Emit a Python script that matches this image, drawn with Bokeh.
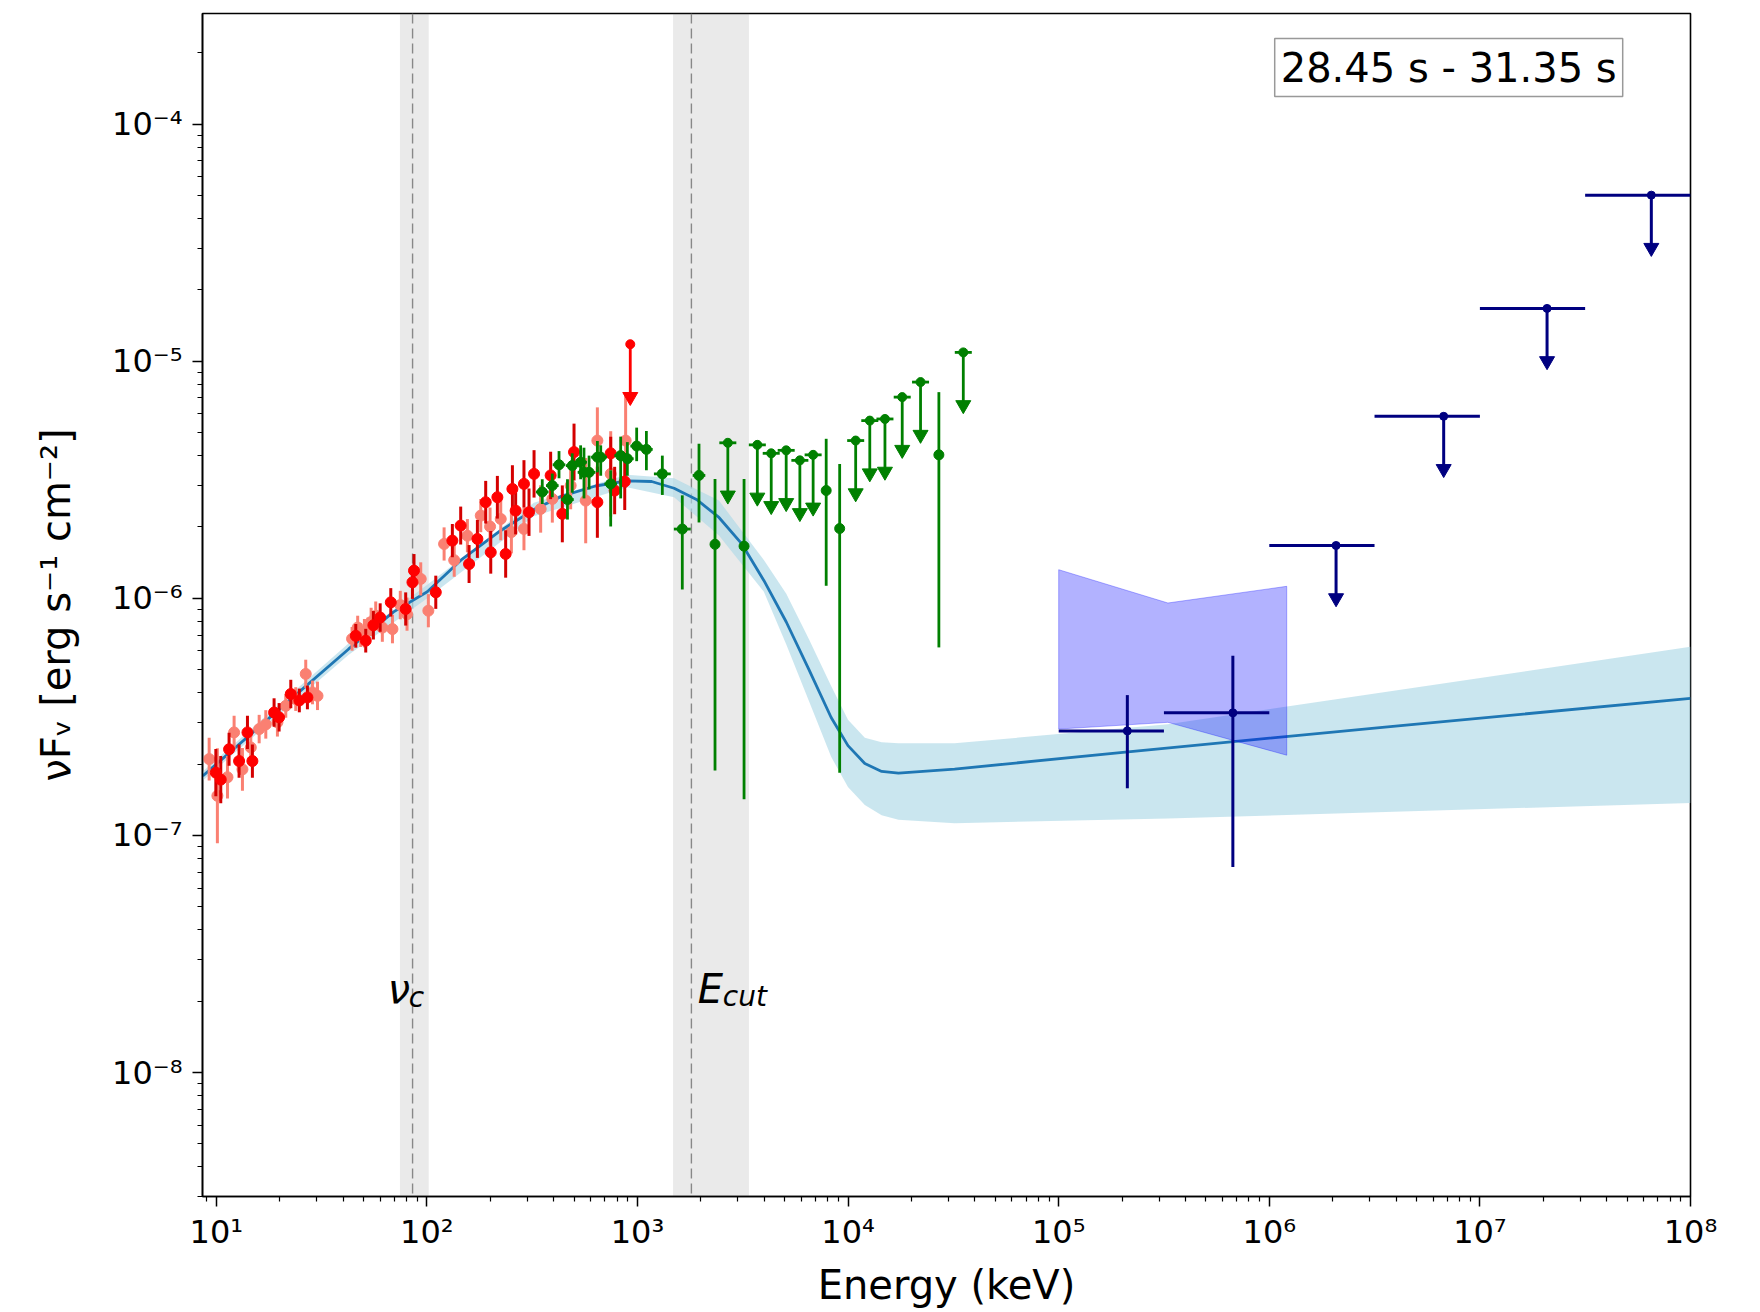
import numpy as np
from bokeh.plotting import figure
from bokeh.models import (ColumnDataSource, Range1d, FixedTicker, CustomJSTickFormatter,
                          Label, BoxAnnotation, Span)
from bokeh.embed import file_html
from bokeh.resources import INLINE

# ---------------- data ----------------
x_tick_exponents = [1, 2, 3, 4, 5, 6, 7, 8]
y_tick_exponents = [-8, -7, -6, -5, -4]
x_limits = [8.6, 1.0e8]
y_limits = [3.0e-9, 2.93e-4]

# best-fit model (keV, erg s^-1 cm^-2)
model_E = [8.63, 20.37, 42.54, 69.49, 100.4, 145.0, 222.8, 321.9, 437.5, 632.0, 891.3, 1167,
           1492, 1906, 2437, 3114, 3981, 5087, 6502, 8309, 9986, 12007, 14434, 17346, 32035,
           2.017e5, 4.332e6, 1.0e8]
model_F = [1.782e-7, 3.469e-7, 6.118e-7, 8.77e-7, 1.067e-6, 1.449e-6, 1.924e-6, 2.368e-6,
           2.699e-6, 2.978e-6, 3.128e-6, 3.111e-6, 2.913e-6, 2.613e-6, 2.194e-6, 1.707e-6,
           1.190e-6, 7.95e-7, 5.03e-7, 3.145e-7, 2.393e-7, 2.010e-7, 1.862e-7, 1.833e-7,
           1.904e-7, 2.243e-7, 2.913e-7, 3.786e-7]

# model uncertainty band
band_E = [8.63, 42.54, 100.4, 321.9, 891.3, 1492, 2437, 3981, 5087, 6502, 8309, 9986, 12007,
          14434, 17346, 32035, 3.295e5, 1.0e8]
band_hi = [1.862e-7, 6.46e-7, 1.140e-6, 2.528e-6, 3.321e-6, 3.214e-6, 2.584e-6, 1.45e-6,
           1.045e-6, 6.75e-7, 4.27e-7, 3.076e-7, 2.584e-7, 2.474e-7, 2.446e-7, 2.446e-7,
           2.945e-7, 6.25e-7]
band_lo = [1.707e-7, 5.79e-7, 1.0e-6, 2.218e-6, 2.945e-6, 2.670e-6, 1.842e-6, 1.067e-6,
           6.39e-7, 3.704e-7, 2.146e-7, 1.599e-7, 1.343e-7, 1.217e-7, 1.165e-7, 1.127e-7,
           1.178e-7, 1.372e-7]

# NaI detector 1 (red) : energy, flux, symmetric error in dex
red_E = [9.95, 10.5, 11.5, 12.83, 14.06, 14.84, 18.81, 19.87, 22.58, 24.79, 27.08,
         45.95, 51.24, 55.71, 60.0, 67.38, 79.31, 85.39, 86.86, 110.2, 132.1, 144.7, 158.6,
         173.7, 190.2, 201.0, 216.1, 236.6, 254.7, 263.9, 289.0, 305.4, 322.7, 386.9, 439.6,
         499.6, 644.8, 746.2, 778.9, 869.8]
red_F = [1.84e-7, 1.72e-7, 2.31e-7, 2.06e-7, 2.72e-7, 2.06e-7, 3.30e-7, 3.15e-7, 3.95e-7,
         3.71e-7, 3.82e-7,
         6.95e-7, 6.63e-7, 7.70e-7, 8.3e-7, 9.62e-7, 9.02e-7, 1.169e-6, 1.309e-6, 1.061e-6,
         1.752e-6, 2.028e-6, 1.396e-6, 1.781e-6, 2.544e-6, 1.564e-6, 2.670e-6, 1.539e-6,
         2.894e-6, 2.344e-6, 3.04e-6, 2.309e-6, 3.35e-6, 3.30e-6, 2.272e-6, 4.14e-6,
         2.544e-6, 4.09e-6, 2.85e-6, 3.11e-6]
red_dex = [0.10, 0.10, 0.07, 0.07, 0.07, 0.07, 0.06, 0.06, 0.06, 0.05, 0.05,
           0.05, 0.05, 0.06, 0.06, 0.06, 0.07, 0.07, 0.07, 0.07, 0.07, 0.08, 0.08, 0.08, 0.09,
           0.09, 0.09, 0.10, 0.10, 0.10, 0.10, 0.10, 0.10, 0.10, 0.12, 0.12, 0.15, 0.07, 0.10,
           0.12]
red_ul_E = [924.0]
red_ul_F = [1.18e-5]

# NaI detector 2 (salmon)
salmon_E = [9.25, 10.12, 11.30, 12.15, 13.31, 14.58, 15.98, 17.18, 19.51, 21.37, 23.84, 26.59,
            28.62, 30.24,
            44.13, 46.92, 48.5, 50.50, 52.5, 54.35, 57.16, 61.44, 68.63, 74.76, 80.48, 93.48,
            101.6, 120.7, 134.8, 155.7, 180.2, 199.5, 224.2, 251.9, 289.0, 346.9, 394.1,
            481.5, 567.6, 644.8, 746.2, 878.3]
salmon_F = [2.10e-7, 1.47e-7, 1.76e-7, 2.72e-7, 1.90e-7, 2.35e-7, 2.81e-7, 2.94e-7, 3.00e-7,
            3.52e-7, 3.76e-7, 4.80e-7, 4.01e-7, 3.88e-7,
            6.75e-7, 7.53e-7, 7.0e-7, 7.13e-7, 7.4e-7, 7.95e-7, 8.45e-7, 7.53e-7, 7.42e-7,
            9.37e-7, 8.58e-7, 1.208e-6, 8.87e-7, 1.696e-6, 1.449e-6, 1.838e-6, 2.234e-6,
            2.009e-6, 2.162e-6, 1.904e-6, 1.963e-6, 2.383e-6, 2.627e-6, 2.99e-6, 2.584e-6,
            4.63e-6, 3.35e-6, 4.63e-6]
salmon_dex = [0.09, 0.20, 0.09, 0.07, 0.09, 0.07, 0.06, 0.06, 0.06, 0.05, 0.05, 0.06, 0.05,
              0.06,
              0.05, 0.05, 0.05, 0.06, 0.05, 0.06, 0.06, 0.06, 0.06, 0.06, 0.07, 0.07, 0.07,
              0.07, 0.07, 0.07, 0.07, 0.08, 0.09, 0.09, 0.09, 0.10, 0.10, 0.10, 0.18, 0.14,
              0.18, 0.20]

# BGO (green)
green_E = [353, 394, 424, 465, 490, 537, 557, 589, 645, 669, 746, 832, 895, 991, 1102, 1312,
           1632, 1959, 2334, 3206, 7870, 9120, 26980]
green_F = [2.81e-6, 2.99e-6, 3.66e-6, 2.61e-6, 3.63e-6, 3.75e-6, 3.40e-6, 3.40e-6, 3.94e-6,
           3.94e-6, 3.04e-6, 4.00e-6, 3.88e-6, 4.39e-6, 4.25e-6, 3.35e-6, 1.96e-6, 3.30e-6,
           1.69e-6, 1.66e-6, 2.85e-6, 1.97e-6, 4.03e-6]
green_hi = [3.18e-6, 3.36e-6, 4.18e-6, 3.18e-6, 4.09e-6, 4.42e-6, 4.32e-6, 4.00e-6, 4.61e-6,
            4.42e-6, 3.47e-6, 4.81e-6, 4.56e-6, 5.25e-6, 5.08e-6, 4.00e-6, 2.72e-6, 4.49e-6,
            3.19e-6, 3.19e-6, 4.71e-6, 3.69e-6, 7.41e-6]
green_lo = [2.50e-6, 2.67e-6, 3.21e-6, 2.15e-6, 2.79e-6, 3.18e-6, 2.64e-6, 2.88e-6, 3.40e-6,
            3.29e-6, 2.01e-6, 2.64e-6, 3.29e-6, 3.79e-6, 3.47e-6, 2.73e-6, 1.09e-6, 2.09e-6,
            1.88e-7, 1.42e-7, 1.13e-6, 1.84e-7, 6.21e-7]
green_xdex = [0.03, 0.03, 0.03, 0.03, 0.03, 0.03, 0.03, 0.03, 0.03, 0.03, 0.03, 0.03, 0.03,
              0.03, 0.03, 0.04, 0.04, 0.03, 0.02, 0.02, 0.02, 0.02, 0.02]
green_ul_E = [2685, 3707, 4315, 5082, 5902, 6823, 10864, 12677, 14962, 18072, 22080, 35237]
green_ul_F = [4.53e-6, 4.44e-6, 4.09e-6, 4.21e-6, 3.82e-6, 4.03e-6, 4.63e-6, 5.62e-6, 5.71e-6,
              7.06e-6, 8.17e-6, 1.09e-5]

# LAT (navy)
lat_E = [2.118e5, 6.714e5]
lat_F = [2.761e-7, 3.289e-7]
lat_hi = [3.908e-7, 5.728e-7]
lat_lo = [1.581e-7, 7.36e-8]
lat_emin = [1.0e5, 3.16e5]
lat_emax = [3.16e5, 1.0e6]
lat_ul_E = [2.075e6, 6.73e6, 2.084e7, 6.516e7]
lat_ul_F = [1.671e-6, 5.86e-6, 1.671e-5, 5.02e-5]
lat_ul_emin = [1.0e6, 3.16e6, 1.0e7, 3.16e7]
lat_ul_emax = [3.16e6, 1.0e7, 3.16e7, 1.0e8]

# LAT butterfly
bowtie_E = [1.0e5, 3.3e5, 1.21e6, 1.21e6, 3.3e5, 1.0e5]
bowtie_F = [1.321e-6, 9.56e-7, 1.124e-6, 2.18e-7, 3.0e-7, 2.81e-7]

# characteristic energies
nu_c = 85.5
nu_c_range = [74.5, 102.0]
e_cut = 1803.0
e_cut_range = [1475.0, 3383.0]

time_label = "28.45 s - 31.35 s"
x_label = "Energy (keV)"
y_label = "\u03bdF\u1d65 [erg s\u207b\u00b9 cm\u207b\u00b2]"
ul_fraction = 0.6   # upper-limit arrows drawn down to 0.6 x value

FONT = "DejaVu Sans"

# ---------------- figure ----------------
p = figure(width=1760, height=1312, x_axis_type="log", y_axis_type="log",
           x_range=Range1d(*x_limits), y_range=Range1d(*y_limits),
           output_backend="svg", toolbar_location=None,
           min_border_left=202, min_border_right=70, min_border_top=13,
           min_border_bottom=116)
p.grid.visible = False
p.background_fill_color = "white"
p.border_fill_color = "white"
p.outline_line_color = "black"
p.outline_line_width = 1.6
p.outline_line_alpha = 1.0

fmt = CustomJSTickFormatter(code="""
const e = Math.round(Math.log10(tick));
const m = {"-":"\u207b","0":"\u2070","1":"\u00b9","2":"\u00b2","3":"\u00b3","4":"\u2074",
           "5":"\u2075","6":"\u2076","7":"\u2077","8":"\u2078","9":"\u2079"};
return "10" + String(e).split("").map(c => m[c]).join("");
""")

x_major = [10.0 ** k for k in x_tick_exponents]
x_minor = [m * 10.0 ** k for k in range(0, 8) for m in range(2, 10)
           if x_limits[0] <= m * 10.0 ** k <= x_limits[1]]
y_major = [10.0 ** k for k in y_tick_exponents]
y_minor = [m * 10.0 ** k for k in range(-9, -3) for m in range(2, 10)
           if y_limits[0] <= m * 10.0 ** k <= y_limits[1]]
p.xaxis.ticker = FixedTicker(ticks=x_major, minor_ticks=x_minor)
p.yaxis.ticker = FixedTicker(ticks=y_major, minor_ticks=y_minor)

for ax in (p.xaxis[0], p.yaxis[0]):
    ax.formatter = fmt
    ax.major_label_text_font = FONT
    ax.major_label_text_font_size = "32px"
    ax.major_label_text_color = "black"
    ax.major_tick_out = 10
    ax.major_tick_in = 0
    ax.minor_tick_out = 5
    ax.minor_tick_in = 0
    ax.major_tick_line_width = 1.5
    ax.minor_tick_line_width = 1.2
    ax.major_tick_line_color = "black"
    ax.minor_tick_line_color = "black"
    ax.axis_line_width = 1.6
    ax.axis_line_color = "black"
    ax.axis_label_text_font = FONT
    ax.axis_label_text_font_size = "40px"
    ax.axis_label_text_font_style = "normal"
    ax.axis_label_text_color = "black"
p.xaxis.major_label_standoff = 6
p.yaxis.major_label_standoff = 10
p.xaxis.axis_label = x_label
p.xaxis.axis_label_standoff = 8
p.yaxis.axis_label = y_label
p.yaxis.axis_label_standoff = 30

# shaded characteristic-energy ranges and dashed lines
for rng, loc in ((nu_c_range, nu_c), (e_cut_range, e_cut)):
    p.add_layout(BoxAnnotation(left=rng[0], right=rng[1], fill_color="gray", fill_alpha=0.17,
                               line_alpha=0, level="underlay"))
    p.add_layout(Span(location=loc, dimension="height", line_color="#888888",
                      line_width=1.4, line_dash="10 5", level="underlay"))

# model band and line
p.varea(x=band_E, y1=band_lo, y2=band_hi, fill_color="#add8e6", fill_alpha=0.65)
p.line(model_E, model_F, line_color="#1f77b4", line_width=2.8)

# LAT butterfly
p.patch(bowtie_E, bowtie_F, fill_color="blue", fill_alpha=0.3, line_color="blue", line_alpha=0.3)


def errpoints(E, F, dex, bar_color, dot_color):
    E = np.array(E, float)
    F = np.array(F, float)
    d = np.array(dex, float)
    src = ColumnDataSource(dict(x=E, y=F, lo=F / 10 ** d, hi=F * 10 ** d))
    p.segment(x0="x", y0="lo", x1="x", y1="hi", source=src, line_color=bar_color, line_width=3)
    p.scatter(x="x", y="y", source=src, size=11, fill_color=dot_color, line_color=dot_color)


errpoints(salmon_E, salmon_F, salmon_dex, "salmon", "salmon")
errpoints(red_E, red_F, red_dex, "#d40000", "red")

# red upper limit
rul = ColumnDataSource(dict(x=red_ul_E, y=red_ul_F, tip=[f * ul_fraction for f in red_ul_F]))
p.segment(x0="x", y0="y", x1="x", y1="tip", source=rul, line_color="red", line_width=2.8)
p.scatter(x="x", y="y", source=rul, size=9, color="red")
p.scatter(x="x", y="tip", source=rul, marker="inverted_triangle", size=15, color="red")

# green points
gE = np.array(green_E, float)
gx = np.array(green_xdex, float)
gsrc = ColumnDataSource(dict(x=gE, y=green_F, lo=green_lo, hi=green_hi,
                             xl=gE / 10 ** gx, xr=gE * 10 ** gx))
p.segment(x0="x", y0="lo", x1="x", y1="hi", source=gsrc, line_color="green", line_width=2.8)
p.segment(x0="xl", y0="y", x1="xr", y1="y", source=gsrc, line_color="green", line_width=2.8)
p.scatter(x="x", y="y", source=gsrc, size=10, color="green")

gul = ColumnDataSource(dict(x=green_ul_E, y=green_ul_F,
                            tip=[f * ul_fraction for f in green_ul_F]))
p.segment(x0="x", y0="y", x1="x", y1="tip", source=gul, line_color="green", line_width=2.8)
p.scatter(x="x", y="y", source=gul, marker="dash", size=17, line_color="green", line_width=2.8)
p.scatter(x="x", y="y", source=gul, size=9, color="green")
p.scatter(x="x", y="tip", source=gul, marker="inverted_triangle", size=15, color="green")

# LAT points
lsrc = ColumnDataSource(dict(x=lat_E, y=lat_F, lo=lat_lo, hi=lat_hi, xl=lat_emin, xr=lat_emax))
p.segment(x0="x", y0="lo", x1="x", y1="hi", source=lsrc, line_color="navy", line_width=3)
p.segment(x0="xl", y0="y", x1="xr", y1="y", source=lsrc, line_color="navy", line_width=3)
p.scatter(x="x", y="y", source=lsrc, size=8, color="navy")

lul = ColumnDataSource(dict(x=lat_ul_E, y=lat_ul_F, xl=lat_ul_emin, xr=lat_ul_emax,
                            tip=[f * ul_fraction for f in lat_ul_F]))
p.segment(x0="xl", y0="y", x1="xr", y1="y", source=lul, line_color="navy", line_width=3)
p.segment(x0="x", y0="y", x1="x", y1="tip", source=lul, line_color="navy", line_width=3)
p.scatter(x="x", y="y", source=lul, size=8, color="navy")
p.scatter(x="x", y="tip", source=lul, marker="inverted_triangle", size=15, color="navy")

# characteristic-energy labels
lab_y = 2.25e-8
p.add_layout(Label(x=65.2, y=lab_y, text="\u03bd", text_font=FONT, text_font_size="40px",
                   text_font_style="italic", text_baseline="alphabetic", text_color="black"))
p.add_layout(Label(x=65.2, y=lab_y, x_offset=21, y_offset=-8, text="c", text_font=FONT,
                   text_font_size="28px", text_font_style="italic",
                   text_baseline="alphabetic", text_color="black"))
p.add_layout(Label(x=1934, y=lab_y, text="E", text_font=FONT, text_font_size="40px",
                   text_font_style="italic", text_baseline="alphabetic", text_color="black"))
p.add_layout(Label(x=1934, y=lab_y, x_offset=25, y_offset=-7, text="cut", text_font=FONT,
                   text_font_size="28px", text_font_style="italic",
                   text_baseline="alphabetic", text_color="black"))

# time-interval box
p.add_layout(Label(x=7.11e6, y=1.733e-4, text=time_label, text_font=FONT, text_font_size="40px",
                   text_align="center", text_baseline="middle", text_color="black",
                   background_fill_color="white", background_fill_alpha=1.0,
                   border_line_color="#999999", border_line_width=1.5, padding=6))

open("out.html", "w").write(file_html(p, INLINE))
